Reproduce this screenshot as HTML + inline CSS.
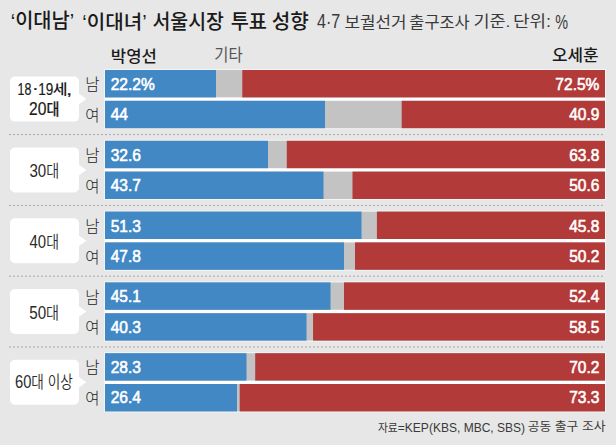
<!DOCTYPE html><html><head><meta charset="utf-8"><title>이대남 이대녀 서울시장 투표 성향</title><style>html,body{margin:0;padding:0;background:#e7e7e7;overflow:hidden}svg{display:block}</style></head><body>
<svg width="616" height="445" viewBox="0 0 616 445">
<rect width="616" height="445" fill="#e7e7e7"/>
<rect x="104" y="69.00" width="502" height="60.20" fill="#f2f4f6"/>
<rect x="105" y="70.00" width="500" height="58.20" fill="#ffffff"/>
<rect x="105" y="70.00" width="500.00" height="27.40" fill="#c3c3c3"/>
<rect x="105" y="70.00" width="111.00" height="27.40" fill="#4188c5"/>
<rect x="242.30" y="70.00" width="362.70" height="27.40" fill="#b23b3a"/>
<rect x="105" y="100.80" width="500.00" height="27.40" fill="#c3c3c3"/>
<rect x="105" y="100.80" width="220.00" height="27.40" fill="#4188c5"/>
<rect x="401.70" y="100.80" width="203.30" height="27.40" fill="#b23b3a"/>
<rect x="10" y="76.60" width="69" height="45" rx="5" fill="#ffffff"/>
<path d="M78 93.10 L86.3 99.10 L78 105.10 Z" fill="#ffffff"/>
<line x1="9" x2="605" y1="134.60" y2="134.60" stroke="#a8a8a8" stroke-width="1" stroke-dasharray="2 2"/>
<text x="110.70" y="90.00" font-family="'Liberation Sans','Noto Sans CJK KR',sans-serif" font-size="16.80" font-weight="400" fill="#fff" stroke="#fff" stroke-width="0.60" transform="matrix(0.925 0 0 1 8.30 0)">22.2%</text>
<text x="599.40" y="90.00" font-family="'Liberation Sans','Noto Sans CJK KR',sans-serif" font-size="16.80" font-weight="400" fill="#fff" text-anchor="end" stroke="#fff" stroke-width="0.60" transform="matrix(0.925 0 0 1 44.95 0)">72.5%</text>
<text x="110.70" y="120.20" font-family="'Liberation Sans','Noto Sans CJK KR',sans-serif" font-size="16.80" font-weight="400" fill="#fff" stroke="#fff" stroke-width="0.60" transform="matrix(0.925 0 0 1 8.30 0)">44</text>
<text x="599.40" y="120.20" font-family="'Liberation Sans','Noto Sans CJK KR',sans-serif" font-size="16.80" font-weight="400" fill="#fff" text-anchor="end" stroke="#fff" stroke-width="0.60" transform="matrix(0.925 0 0 1 44.95 0)">40.9</text>
<text x="92.50" y="90.20" font-family="'Liberation Sans','Noto Sans CJK KR',sans-serif" font-size="15.50" font-weight="300" fill="#222" text-anchor="middle">남</text>
<text x="92.50" y="121.00" font-family="'Liberation Sans','Noto Sans CJK KR',sans-serif" font-size="15.50" font-weight="300" fill="#222" text-anchor="middle">여</text>
<rect x="104" y="139.80" width="502" height="60.20" fill="#f2f4f6"/>
<rect x="105" y="140.80" width="500" height="58.20" fill="#ffffff"/>
<rect x="105" y="140.80" width="500.00" height="27.40" fill="#c3c3c3"/>
<rect x="105" y="140.80" width="163.00" height="27.40" fill="#4188c5"/>
<rect x="286.80" y="140.80" width="318.20" height="27.40" fill="#b23b3a"/>
<rect x="105" y="171.60" width="500.00" height="27.40" fill="#c3c3c3"/>
<rect x="105" y="171.60" width="218.50" height="27.40" fill="#4188c5"/>
<rect x="352.50" y="171.60" width="252.50" height="27.40" fill="#b23b3a"/>
<rect x="10" y="147.40" width="69" height="45" rx="5" fill="#ffffff"/>
<path d="M78 163.90 L86.3 169.90 L78 175.90 Z" fill="#ffffff"/>
<line x1="9" x2="605" y1="205.40" y2="205.40" stroke="#a8a8a8" stroke-width="1" stroke-dasharray="2 2"/>
<text x="110.70" y="160.80" font-family="'Liberation Sans','Noto Sans CJK KR',sans-serif" font-size="16.80" font-weight="400" fill="#fff" stroke="#fff" stroke-width="0.60" transform="matrix(0.925 0 0 1 8.30 0)">32.6</text>
<text x="599.40" y="160.80" font-family="'Liberation Sans','Noto Sans CJK KR',sans-serif" font-size="16.80" font-weight="400" fill="#fff" text-anchor="end" stroke="#fff" stroke-width="0.60" transform="matrix(0.925 0 0 1 44.95 0)">63.8</text>
<text x="110.70" y="191.00" font-family="'Liberation Sans','Noto Sans CJK KR',sans-serif" font-size="16.80" font-weight="400" fill="#fff" stroke="#fff" stroke-width="0.60" transform="matrix(0.925 0 0 1 8.30 0)">43.7</text>
<text x="599.40" y="191.00" font-family="'Liberation Sans','Noto Sans CJK KR',sans-serif" font-size="16.80" font-weight="400" fill="#fff" text-anchor="end" stroke="#fff" stroke-width="0.60" transform="matrix(0.925 0 0 1 44.95 0)">50.6</text>
<text x="92.50" y="161.00" font-family="'Liberation Sans','Noto Sans CJK KR',sans-serif" font-size="15.50" font-weight="300" fill="#222" text-anchor="middle">남</text>
<text x="92.50" y="191.80" font-family="'Liberation Sans','Noto Sans CJK KR',sans-serif" font-size="15.50" font-weight="300" fill="#222" text-anchor="middle">여</text>
<rect x="104" y="210.60" width="502" height="60.20" fill="#f2f4f6"/>
<rect x="105" y="211.60" width="500" height="58.20" fill="#ffffff"/>
<rect x="105" y="211.60" width="500.00" height="27.40" fill="#c3c3c3"/>
<rect x="105" y="211.60" width="256.50" height="27.40" fill="#4188c5"/>
<rect x="376.90" y="211.60" width="228.10" height="27.40" fill="#b23b3a"/>
<rect x="105" y="242.40" width="500.00" height="27.40" fill="#c3c3c3"/>
<rect x="105" y="242.40" width="239.00" height="27.40" fill="#4188c5"/>
<rect x="355.00" y="242.40" width="250.00" height="27.40" fill="#b23b3a"/>
<rect x="10" y="218.20" width="69" height="45" rx="5" fill="#ffffff"/>
<path d="M78 234.70 L86.3 240.70 L78 246.70 Z" fill="#ffffff"/>
<line x1="9" x2="605" y1="276.20" y2="276.20" stroke="#a8a8a8" stroke-width="1" stroke-dasharray="2 2"/>
<text x="110.70" y="231.60" font-family="'Liberation Sans','Noto Sans CJK KR',sans-serif" font-size="16.80" font-weight="400" fill="#fff" stroke="#fff" stroke-width="0.60" transform="matrix(0.925 0 0 1 8.30 0)">51.3</text>
<text x="599.40" y="231.60" font-family="'Liberation Sans','Noto Sans CJK KR',sans-serif" font-size="16.80" font-weight="400" fill="#fff" text-anchor="end" stroke="#fff" stroke-width="0.60" transform="matrix(0.925 0 0 1 44.95 0)">45.8</text>
<text x="110.70" y="261.80" font-family="'Liberation Sans','Noto Sans CJK KR',sans-serif" font-size="16.80" font-weight="400" fill="#fff" stroke="#fff" stroke-width="0.60" transform="matrix(0.925 0 0 1 8.30 0)">47.8</text>
<text x="599.40" y="261.80" font-family="'Liberation Sans','Noto Sans CJK KR',sans-serif" font-size="16.80" font-weight="400" fill="#fff" text-anchor="end" stroke="#fff" stroke-width="0.60" transform="matrix(0.925 0 0 1 44.95 0)">50.2</text>
<text x="92.50" y="231.80" font-family="'Liberation Sans','Noto Sans CJK KR',sans-serif" font-size="15.50" font-weight="300" fill="#222" text-anchor="middle">남</text>
<text x="92.50" y="262.60" font-family="'Liberation Sans','Noto Sans CJK KR',sans-serif" font-size="15.50" font-weight="300" fill="#222" text-anchor="middle">여</text>
<rect x="104" y="281.40" width="502" height="60.20" fill="#f2f4f6"/>
<rect x="105" y="282.40" width="500" height="58.20" fill="#ffffff"/>
<rect x="105" y="282.40" width="500.00" height="27.40" fill="#c3c3c3"/>
<rect x="105" y="282.40" width="225.50" height="27.40" fill="#4188c5"/>
<rect x="344.00" y="282.40" width="261.00" height="27.40" fill="#b23b3a"/>
<rect x="105" y="313.20" width="500.00" height="27.40" fill="#c3c3c3"/>
<rect x="105" y="313.20" width="201.50" height="27.40" fill="#4188c5"/>
<rect x="313.05" y="313.20" width="291.95" height="27.40" fill="#b23b3a"/>
<rect x="10" y="289.00" width="69" height="45" rx="5" fill="#ffffff"/>
<path d="M78 305.50 L86.3 311.50 L78 317.50 Z" fill="#ffffff"/>
<line x1="9" x2="605" y1="347.00" y2="347.00" stroke="#a8a8a8" stroke-width="1" stroke-dasharray="2 2"/>
<text x="110.70" y="302.40" font-family="'Liberation Sans','Noto Sans CJK KR',sans-serif" font-size="16.80" font-weight="400" fill="#fff" stroke="#fff" stroke-width="0.60" transform="matrix(0.925 0 0 1 8.30 0)">45.1</text>
<text x="599.40" y="302.40" font-family="'Liberation Sans','Noto Sans CJK KR',sans-serif" font-size="16.80" font-weight="400" fill="#fff" text-anchor="end" stroke="#fff" stroke-width="0.60" transform="matrix(0.925 0 0 1 44.95 0)">52.4</text>
<text x="110.70" y="332.60" font-family="'Liberation Sans','Noto Sans CJK KR',sans-serif" font-size="16.80" font-weight="400" fill="#fff" stroke="#fff" stroke-width="0.60" transform="matrix(0.925 0 0 1 8.30 0)">40.3</text>
<text x="599.40" y="332.60" font-family="'Liberation Sans','Noto Sans CJK KR',sans-serif" font-size="16.80" font-weight="400" fill="#fff" text-anchor="end" stroke="#fff" stroke-width="0.60" transform="matrix(0.925 0 0 1 44.95 0)">58.5</text>
<text x="92.50" y="302.60" font-family="'Liberation Sans','Noto Sans CJK KR',sans-serif" font-size="15.50" font-weight="300" fill="#222" text-anchor="middle">남</text>
<text x="92.50" y="333.40" font-family="'Liberation Sans','Noto Sans CJK KR',sans-serif" font-size="15.50" font-weight="300" fill="#222" text-anchor="middle">여</text>
<rect x="104" y="352.20" width="502" height="60.20" fill="#f2f4f6"/>
<rect x="105" y="353.20" width="500" height="58.20" fill="#ffffff"/>
<rect x="105" y="353.20" width="500.00" height="27.40" fill="#c3c3c3"/>
<rect x="105" y="353.20" width="141.50" height="27.40" fill="#4188c5"/>
<rect x="255.20" y="353.20" width="349.80" height="27.40" fill="#b23b3a"/>
<rect x="105" y="384.00" width="500.00" height="27.40" fill="#c3c3c3"/>
<rect x="105" y="384.00" width="132.00" height="27.40" fill="#4188c5"/>
<rect x="239.70" y="384.00" width="365.30" height="27.40" fill="#b23b3a"/>
<rect x="10" y="359.80" width="69" height="45" rx="5" fill="#ffffff"/>
<path d="M78 376.30 L86.3 382.30 L78 388.30 Z" fill="#ffffff"/>
<text x="110.70" y="373.20" font-family="'Liberation Sans','Noto Sans CJK KR',sans-serif" font-size="16.80" font-weight="400" fill="#fff" stroke="#fff" stroke-width="0.60" transform="matrix(0.925 0 0 1 8.30 0)">28.3</text>
<text x="599.40" y="373.20" font-family="'Liberation Sans','Noto Sans CJK KR',sans-serif" font-size="16.80" font-weight="400" fill="#fff" text-anchor="end" stroke="#fff" stroke-width="0.60" transform="matrix(0.925 0 0 1 44.95 0)">70.2</text>
<text x="110.70" y="403.40" font-family="'Liberation Sans','Noto Sans CJK KR',sans-serif" font-size="16.80" font-weight="400" fill="#fff" stroke="#fff" stroke-width="0.60" transform="matrix(0.925 0 0 1 8.30 0)">26.4</text>
<text x="599.40" y="403.40" font-family="'Liberation Sans','Noto Sans CJK KR',sans-serif" font-size="16.80" font-weight="400" fill="#fff" text-anchor="end" stroke="#fff" stroke-width="0.60" transform="matrix(0.925 0 0 1 44.95 0)">73.3</text>
<text x="92.50" y="373.40" font-family="'Liberation Sans','Noto Sans CJK KR',sans-serif" font-size="15.50" font-weight="300" fill="#222" text-anchor="middle">남</text>
<text x="92.50" y="404.20" font-family="'Liberation Sans','Noto Sans CJK KR',sans-serif" font-size="15.50" font-weight="300" fill="#222" text-anchor="middle">여</text>
<text x="10.73" y="28.49" font-family="'Liberation Sans','Noto Sans CJK KR',sans-serif" font-size="20.17" font-weight="500" fill="#1a1a1a" textLength="63.37" lengthAdjust="spacingAndGlyphs"><tspan font-weight="400">‘</tspan>이대남<tspan font-weight="400">’</tspan></text>
<text x="82.25" y="28.59" font-family="'Liberation Sans','Noto Sans CJK KR',sans-serif" font-size="19.66" font-weight="500" fill="#1a1a1a" textLength="64.46" lengthAdjust="spacingAndGlyphs"><tspan font-weight="400">‘</tspan>이대녀<tspan font-weight="400">’</tspan></text>
<text x="152.45" y="29.09" font-family="'Liberation Sans','Noto Sans CJK KR',sans-serif" font-size="20.72" font-weight="500" fill="#1a1a1a" textLength="71.49" lengthAdjust="spacingAndGlyphs">서울시장</text>
<text x="230.65" y="28.54" font-family="'Liberation Sans','Noto Sans CJK KR',sans-serif" font-size="20.33" font-weight="500" fill="#1a1a1a" textLength="36.39" lengthAdjust="spacingAndGlyphs">투표</text>
<text x="271.67" y="28.81" font-family="'Liberation Sans','Noto Sans CJK KR',sans-serif" font-size="20.07" font-weight="500" fill="#1a1a1a" textLength="37.11" lengthAdjust="spacingAndGlyphs">성향</text>
<text x="317.00" y="28.23" font-family="'Liberation Sans','Noto Sans CJK KR',sans-serif" font-size="19.94" font-weight="400" fill="#3a3a3a" textLength="23.31" lengthAdjust="spacingAndGlyphs">4·7</text>
<text x="344.43" y="27.60" font-family="'Liberation Sans','Noto Sans CJK KR',sans-serif" font-size="15.84" font-weight="400" fill="#3a3a3a" textLength="62.04" lengthAdjust="spacingAndGlyphs">보궐선거</text>
<text x="409.34" y="27.68" font-family="'Liberation Sans','Noto Sans CJK KR',sans-serif" font-size="16.47" font-weight="400" fill="#3a3a3a" textLength="60.31" lengthAdjust="spacingAndGlyphs">출구조사</text>
<text x="473.45" y="27.27" font-family="'Liberation Sans','Noto Sans CJK KR',sans-serif" font-size="15.39" font-weight="400" fill="#3a3a3a" textLength="37.05" lengthAdjust="spacingAndGlyphs">기준.</text>
<text x="513.00" y="27.46" font-family="'Liberation Sans','Noto Sans CJK KR',sans-serif" font-size="15.66" font-weight="400" fill="#3a3a3a" textLength="38.05" lengthAdjust="spacingAndGlyphs">단위:</text>
<text x="555.21" y="28.70" font-family="'Liberation Sans','Noto Sans CJK KR',sans-serif" font-size="19.29" font-weight="400" fill="#3a3a3a" textLength="12.82" lengthAdjust="spacingAndGlyphs">%</text>
<text x="110.83" y="61.54" font-family="'Liberation Sans','Noto Sans CJK KR',sans-serif" font-size="16.05" font-weight="500" fill="#1a1a1a" textLength="46.04" lengthAdjust="spacingAndGlyphs">박영선</text>
<text x="214.29" y="61.07" font-family="'Liberation Sans','Noto Sans CJK KR',sans-serif" font-size="16.75" font-weight="400" fill="#555555" textLength="28.32" lengthAdjust="spacingAndGlyphs">기타</text>
<text x="551.95" y="61.28" font-family="'Liberation Sans','Noto Sans CJK KR',sans-serif" font-size="16.28" font-weight="500" fill="#1a1a1a" textLength="46.69" lengthAdjust="spacingAndGlyphs">오세훈</text>
<text x="377.90" y="431.57" font-family="'Liberation Sans','Noto Sans CJK KR',sans-serif" font-size="12.05" font-weight="400" fill="#3a3a3a" textLength="147.22" lengthAdjust="spacingAndGlyphs"><tspan font-size="10.85">자료</tspan>=KEP(KBS, MBC, SBS)</text>
<text x="527.79" y="431.49" font-family="'Liberation Sans','Noto Sans CJK KR',sans-serif" font-size="12.30" font-weight="400" fill="#3a3a3a" textLength="77.69" lengthAdjust="spacingAndGlyphs">공동 출구 조사</text>
<text x="17.47" y="95.08" font-family="'Liberation Sans','Noto Sans CJK KR',sans-serif" font-size="17.00" font-weight="400" fill="#1a1a1a" textLength="13.84" lengthAdjust="spacingAndGlyphs" stroke="#1a1a1a" stroke-width="0.20">18</text>
<text x="38.15" y="95.14" font-family="'Liberation Sans','Noto Sans CJK KR',sans-serif" font-size="17.00" font-weight="400" fill="#1a1a1a" textLength="15.08" lengthAdjust="spacingAndGlyphs" stroke="#1a1a1a" stroke-width="0.20">19</text>
<text x="52.89" y="94.23" font-family="'Liberation Sans','Noto Sans CJK KR',sans-serif" font-size="13.90" font-weight="500" fill="#1a1a1a" textLength="14.82" lengthAdjust="spacingAndGlyphs">세</text>
<text x="65.94" y="94.76" font-family="'Liberation Sans','Noto Sans CJK KR',sans-serif" font-size="17.00" font-weight="400" fill="#1a1a1a" textLength="6.22" lengthAdjust="spacingAndGlyphs" stroke="#1a1a1a" stroke-width="0.20">,</text>
<text x="31.94" y="93.91" font-family="'Liberation Sans','Noto Sans CJK KR',sans-serif" font-size="17.00" font-weight="400" fill="#1a1a1a" textLength="6.71" lengthAdjust="spacingAndGlyphs" stroke="#1a1a1a" stroke-width="0.20">·</text>
<text x="29.05" y="115.08" font-family="'Liberation Sans','Noto Sans CJK KR',sans-serif" font-size="17.50" font-weight="400" fill="#1a1a1a" textLength="30.29" lengthAdjust="spacingAndGlyphs" stroke="#1a1a1a" stroke-width="0.20">20<tspan font-size="15.75" font-weight="500">대</tspan></text>
<text x="29.38" y="177.10" font-family="'Liberation Sans','Noto Sans CJK KR',sans-serif" font-size="18.00" font-weight="400" fill="#2a2a2a" textLength="29.73" lengthAdjust="spacingAndGlyphs"><tspan font-weight="350">30</tspan><tspan font-size="16.74" font-weight="350">대</tspan></text>
<text x="29.57" y="247.95" font-family="'Liberation Sans','Noto Sans CJK KR',sans-serif" font-size="18.00" font-weight="400" fill="#2a2a2a" textLength="29.38" lengthAdjust="spacingAndGlyphs"><tspan font-weight="350">40</tspan><tspan font-size="16.74" font-weight="350">대</tspan></text>
<text x="29.21" y="318.63" font-family="'Liberation Sans','Noto Sans CJK KR',sans-serif" font-size="18.00" font-weight="400" fill="#2a2a2a" textLength="29.87" lengthAdjust="spacingAndGlyphs"><tspan font-weight="350">50</tspan><tspan font-size="16.74" font-weight="350">대</tspan></text>
<text x="15.01" y="387.51" font-family="'Liberation Sans','Noto Sans CJK KR',sans-serif" font-size="18.00" font-weight="400" fill="#2a2a2a" textLength="57.77" lengthAdjust="spacingAndGlyphs"><tspan font-weight="350">60</tspan><tspan font-size="16.74" font-weight="350">대 이상</tspan></text>
</svg></body></html>
